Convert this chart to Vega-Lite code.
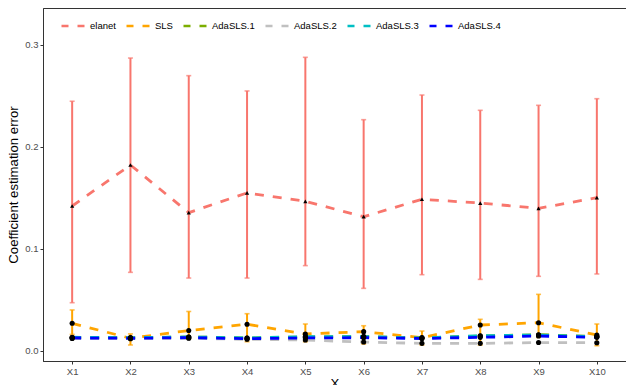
{
  "$schema": "https://vega.github.io/schema/vega-lite/v6.json",
  "autosize": "none",
  "padding": {"left": 43, "top": 8, "right": 0, "bottom": 24},
  "width": 583,
  "height": 353,
  "background": "white",
  "config": {
    "font": "Liberation Sans",
    "view": {"stroke": "#333333", "strokeWidth": 1},
    "axis": {
      "grid": false,
      "domainColor": "#333333",
      "tickColor": "#333333",
      "tickSize": 3,
      "labelColor": "#4D4D4D",
      "labelFontSize": 9.5,
      "labelPadding": 2,
      "titleColor": "black",
      "titleFontSize": 13.2,
      "titleFontWeight": "normal"
    }
  },
  "data": {
    "values": [
      {"m": "elanet", "x": "X1", "v": 0.142, "lo": 0.0471, "hi": 0.2448},
      {"m": "elanet", "x": "X2", "v": 0.1822, "lo": 0.0769, "hi": 0.2872},
      {"m": "elanet", "x": "X3", "v": 0.1355, "lo": 0.0713, "hi": 0.2699},
      {"m": "elanet", "x": "X4", "v": 0.1548, "lo": 0.0713, "hi": 0.2549},
      {"m": "elanet", "x": "X5", "v": 0.1466, "lo": 0.0835, "hi": 0.2879},
      {"m": "elanet", "x": "X6", "v": 0.1315, "lo": 0.0612, "hi": 0.2267},
      {"m": "elanet", "x": "X7", "v": 0.1486, "lo": 0.0746, "hi": 0.2509},
      {"m": "elanet", "x": "X8", "v": 0.1449, "lo": 0.07, "hi": 0.2359},
      {"m": "elanet", "x": "X9", "v": 0.1397, "lo": 0.073, "hi": 0.2408},
      {"m": "elanet", "x": "X10", "v": 0.1502, "lo": 0.0753, "hi": 0.2473},
      {"m": "SLS", "x": "X1", "v": 0.0269, "lo": 0.016, "hi": 0.04},
      {"m": "SLS", "x": "X2", "v": 0.0122, "lo": 0.0056, "hi": 0.0165},
      {"m": "SLS", "x": "X3", "v": 0.0198, "lo": 0.0115, "hi": 0.0385},
      {"m": "SLS", "x": "X4", "v": 0.026, "lo": 0.0088, "hi": 0.0363},
      {"m": "SLS", "x": "X5", "v": 0.0164, "lo": 0.0088, "hi": 0.0262},
      {"m": "SLS", "x": "X6", "v": 0.0187, "lo": 0.0066, "hi": 0.0245},
      {"m": "SLS", "x": "X7", "v": 0.0128, "lo": 0.0056, "hi": 0.0193},
      {"m": "SLS", "x": "X8", "v": 0.0252, "lo": 0.0056, "hi": 0.0308},
      {"m": "SLS", "x": "X9", "v": 0.0275, "lo": 0.013, "hi": 0.0553},
      {"m": "SLS", "x": "X10", "v": 0.0154, "lo": 0.0049, "hi": 0.0262},
      {"m": "AdaSLS.1", "x": "X1", "v": 0.013},
      {"m": "AdaSLS.1", "x": "X2", "v": 0.0127},
      {"m": "AdaSLS.1", "x": "X3", "v": 0.0135},
      {"m": "AdaSLS.1", "x": "X4", "v": 0.0125},
      {"m": "AdaSLS.1", "x": "X5", "v": 0.0135},
      {"m": "AdaSLS.1", "x": "X6", "v": 0.014},
      {"m": "AdaSLS.1", "x": "X7", "v": 0.0125},
      {"m": "AdaSLS.1", "x": "X8", "v": 0.0145},
      {"m": "AdaSLS.1", "x": "X9", "v": 0.0157},
      {"m": "AdaSLS.1", "x": "X10", "v": 0.014},
      {"m": "AdaSLS.2", "x": "X1", "v": 0.012},
      {"m": "AdaSLS.2", "x": "X2", "v": 0.0118},
      {"m": "AdaSLS.2", "x": "X3", "v": 0.0122},
      {"m": "AdaSLS.2", "x": "X4", "v": 0.0112},
      {"m": "AdaSLS.2", "x": "X5", "v": 0.0105},
      {"m": "AdaSLS.2", "x": "X6", "v": 0.0085},
      {"m": "AdaSLS.2", "x": "X7", "v": 0.0072},
      {"m": "AdaSLS.2", "x": "X8", "v": 0.0072},
      {"m": "AdaSLS.2", "x": "X9", "v": 0.008},
      {"m": "AdaSLS.2", "x": "X10", "v": 0.0078},
      {"m": "AdaSLS.3", "x": "X1", "v": 0.0132},
      {"m": "AdaSLS.3", "x": "X2", "v": 0.0128},
      {"m": "AdaSLS.3", "x": "X3", "v": 0.0135},
      {"m": "AdaSLS.3", "x": "X4", "v": 0.0125},
      {"m": "AdaSLS.3", "x": "X5", "v": 0.0138},
      {"m": "AdaSLS.3", "x": "X6", "v": 0.0138},
      {"m": "AdaSLS.3", "x": "X7", "v": 0.0125},
      {"m": "AdaSLS.3", "x": "X8", "v": 0.0147},
      {"m": "AdaSLS.3", "x": "X9", "v": 0.0154},
      {"m": "AdaSLS.3", "x": "X10", "v": 0.0138},
      {"m": "AdaSLS.4", "x": "X1", "v": 0.0125},
      {"m": "AdaSLS.4", "x": "X2", "v": 0.0122},
      {"m": "AdaSLS.4", "x": "X3", "v": 0.0128},
      {"m": "AdaSLS.4", "x": "X4", "v": 0.0118},
      {"m": "AdaSLS.4", "x": "X5", "v": 0.0125},
      {"m": "AdaSLS.4", "x": "X6", "v": 0.0128},
      {"m": "AdaSLS.4", "x": "X7", "v": 0.012},
      {"m": "AdaSLS.4", "x": "X8", "v": 0.0131},
      {"m": "AdaSLS.4", "x": "X9", "v": 0.0144},
      {"m": "AdaSLS.4", "x": "X10", "v": 0.0131}
    ]
  },
  "encoding": {
    "x": {
      "field": "x",
      "type": "ordinal",
      "sort": ["X1", "X2", "X3", "X4", "X5", "X6", "X7", "X8", "X9", "X10"],
      "scale": {"type": "point", "padding": 0.5},
      "axis": {"labelAngle": 0, "title": "X", "titlePadding": 2}
    }
  },
  "layer": [
    {
      "mark": {"type": "line", "strokeDash": [9, 9], "strokeWidth": 2.8, "strokeCap": "butt"},
      "encoding": {
        "y": {
          "field": "v",
          "type": "quantitative",
          "scale": {"domain": [-0.0101, 0.3363], "nice": false, "zero": false},
          "axis": {"values": [0, 0.1, 0.2, 0.3], "format": ".1f", "title": "Coefficient estimation error", "titlePadding": 4}
        },
        "color": {
          "field": "m",
          "type": "nominal",
          "scale": {
            "domain": ["elanet", "SLS", "AdaSLS.1", "AdaSLS.2", "AdaSLS.3", "AdaSLS.4"],
            "range": ["#F8766D", "#FFA500", "#7CAE00", "#C0C0C0", "#00BFC4", "#0000FF"]
          },
          "legend": {
            "title": null,
            "orient": "none",
            "direction": "horizontal",
            "legendX": 17,
            "legendY": 5,
            "padding": 0,
            "symbolType": "stroke",
            "symbolDash": [7, 9],
            "symbolSize": 529,
            "symbolStrokeWidth": 2.5,
            "labelFontSize": 9.5,
            "labelColor": "black",
            "labelOffset": 4,
            "columnPadding": 5
          }
        },
        "order": {"field": "m"}
      }
    },
    {
      "transform": [{"filter": {"field": "m", "oneOf": ["elanet", "SLS"]}}],
      "mark": {"type": "rule", "strokeWidth": 2},
      "encoding": {
        "y": {"field": "lo", "type": "quantitative"},
        "y2": {"field": "hi"},
        "color": {"field": "m", "type": "nominal", "legend": null}
      }
    },
    {
      "transform": [{"filter": {"field": "m", "oneOf": ["elanet", "SLS"]}}],
      "mark": {"type": "tick", "size": 5, "thickness": 1.6},
      "encoding": {
        "y": {"field": "lo", "type": "quantitative"},
        "color": {"field": "m", "type": "nominal", "legend": null}
      }
    },
    {
      "transform": [{"filter": {"field": "m", "oneOf": ["elanet", "SLS"]}}],
      "mark": {"type": "tick", "size": 5, "thickness": 1.6},
      "encoding": {
        "y": {"field": "hi", "type": "quantitative"},
        "color": {"field": "m", "type": "nominal", "legend": null}
      }
    },
    {
      "transform": [{"filter": {"field": "m", "equal": "elanet"}}],
      "mark": {"type": "point", "shape": "triangle-up", "filled": true, "color": "black", "size": 18, "opacity": 1},
      "encoding": {
        "y": {"field": "v", "type": "quantitative"}
      }
    },
    {
      "transform": [{"filter": {"not": {"field": "m", "equal": "elanet"}}}],
      "mark": {"type": "point", "shape": "circle", "filled": true, "color": "black", "size": 26, "opacity": 1},
      "encoding": {
        "y": {"field": "v", "type": "quantitative"}
      }
    }
  ]
}
